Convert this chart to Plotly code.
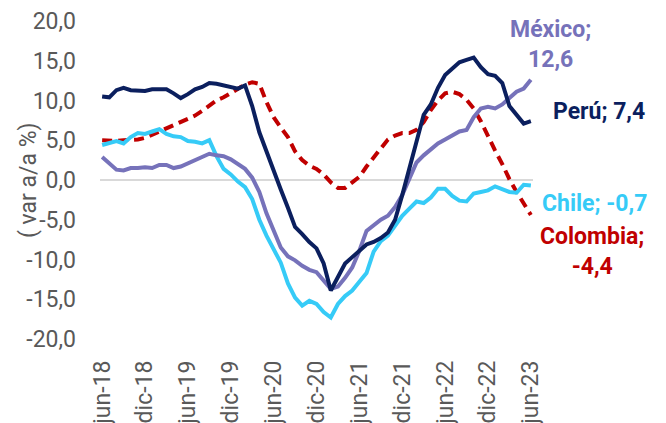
import plotly.graph_objects as go

# Monthly series, jun-18 .. jun-23 (61 points)
peru = [10.5, 10.4, 11.3, 11.6, 11.3, 11.3, 11.2, 11.4, 11.4, 11.4,
        10.9, 10.3, 10.8, 11.4, 11.7, 12.2, 12.1, 11.9, 11.6, 11.5,
        11.9, 9.3, 6.0, 3.5, 1.0, -1.2, -3.5, -5.9, -6.8, -7.8,
        -8.6, -10.5, -13.9, -12.3, -10.5, -9.7, -8.9, -8.1, -7.8, -7.3,
        -6.6, -5.0, -1.9, 1.5, 5.0, 8.2, 9.5, 11.6, 13.2, 14.0,
        14.8, 15.1, 15.4, 14.2, 13.3, 13.1, 12.2, 9.3, 8.2, 7.1, 7.4]
colombia = [5.0, 4.9, 4.9, 5.0, 5.0, 5.1, 5.3, 5.7, 6.1, 6.5,
            6.9, 7.3, 7.7, 8.1, 8.7, 9.4, 10.0, 10.4, 10.9, 11.4,
            12.0, 12.3, 12.1, 9.8, 7.9, 6.6, 5.4, 3.6, 2.5, 1.8,
            1.4, 0.7, -0.3, -1.0, -1.0, -0.3, 0.4, 1.7, 2.9, 4.1,
            5.1, 5.6, 5.9, 5.9, 6.3, 7.3, 8.8, 10.0, 10.9, 11.1,
            10.8, 10.1, 9.0, 7.4, 5.5, 3.7, 2.0, 0.1, -1.5, -3.0, -4.4]
chile = [4.4, 4.6, 4.9, 4.6, 5.4, 5.9, 5.8, 6.1, 6.4, 5.8,
         5.5, 5.4, 4.9, 4.8, 4.6, 5.0, 3.0, 1.4, 0.7, -0.2,
         -0.9, -2.4, -5.0, -7.0, -8.6, -10.4, -13.0, -14.8, -15.8, -15.2,
         -15.6, -16.6, -17.3, -15.6, -14.6, -13.9, -12.8, -11.7, -9.0, -7.7,
         -7.0, -5.8, -4.5, -3.6, -2.7, -2.9, -2.2, -1.1, -1.1, -2.0,
         -2.6, -2.7, -1.7, -1.5, -1.3, -0.8, -1.1, -1.5, -1.6, -0.6, -0.7]
mexico = [2.9, 2.1, 1.3, 1.2, 1.5, 1.5, 1.6, 1.5, 1.9, 1.9,
          1.5, 1.7, 2.1, 2.4, 2.9, 3.3, 3.1, 3.0, 2.6, 2.0,
          1.4, 0.3, -1.5, -4.2, -6.5, -8.5, -9.6, -10.1, -10.8, -11.3,
          -11.6, -12.7, -13.7, -13.4, -12.3, -11.0, -8.9, -6.4, -5.7, -5.0,
          -4.5, -3.4, -1.9, 0.3, 2.2, 3.1, 3.9, 4.6, 5.1, 5.6,
          6.1, 6.3, 7.9, 9.0, 9.2, 9.0, 9.5, 10.3, 11.1, 11.5, 12.6]

x_ticks = ["jun-18", "dic-18", "jun-19", "dic-19", "jun-20", "dic-20",
           "jun-21", "dic-21", "jun-22", "dic-22", "jun-23"]
y_ticks = [20, 15, 10, 5, 0, -5, -10, -15, -20]
y_tick_text = ["20,0", "15,0", "10,0", "5,0", "0,0", "-5,0", "-10,0", "-15,0", "-20,0"]

labels = ["Perú; 7,4", "México;<br>12,6", "Chile; -0,7", "Colombia;<br>-4,4"]

C_PERU = "#0B1F5E"
C_MEX = "#7672BA"
C_CHILE = "#36CBF7"
C_COL = "#C00000"

n = len(peru)
xs = list(range(n))

fig = go.Figure()
fig.add_trace(go.Scatter(x=xs, y=colombia, mode="lines",
                         line=dict(color=C_COL, width=4, dash="10px,6px")))
fig.add_trace(go.Scatter(x=xs, y=chile, mode="lines",
                         line=dict(color=C_CHILE, width=4)))
fig.add_trace(go.Scatter(x=xs, y=mexico, mode="lines",
                         line=dict(color=C_MEX, width=4)))
fig.add_trace(go.Scatter(x=xs, y=peru, mode="lines",
                         line=dict(color=C_PERU, width=4)))

tick_font = dict(family="Roboto", size=23, color="#595959")

# page body has an 8px margin, so the figure is 658x415 placed at (8, 8)
fig.update_layout(
    width=658, height=415,
    margin=dict(l=92, r=133, t=13, b=84, autoexpand=False),
    paper_bgcolor="white", plot_bgcolor="white",
    showlegend=False,
    xaxis=dict(range=[-0.3, n - 1 + 0.3], tickvals=list(range(0, n, 6)),
               ticktext=x_ticks, tickangle=-90, tickfont=tick_font,
               showgrid=False, zeroline=False, showline=False, ticks="",
               automargin=False, ticklabelstandoff=16),
    yaxis=dict(range=[-20, 20], tickvals=y_ticks, ticktext=y_tick_text,
               tickfont=tick_font, showgrid=False, zeroline=True,
               zerolinecolor="#D9D9D9", zerolinewidth=1.5, showline=False,
               automargin=False, ticks="", ticklabelstandoff=23),
)

fig.add_annotation(xref="paper", yref="paper", x=-0.166, y=0.5,
                   xanchor="center", yanchor="middle", textangle=-90,
                   text="( var a/a %)", showarrow=False,
                   font=dict(family="Roboto", size=23, color="#595959"))

# right-side labels (paper coords: plot spans x 100..533, y 21..339 px on screen)
def px_x(p):
    return (p - 100) / 433.0

def px_y(p):
    return (339 - p) / 318.0

bold = dict(family="Roboto", size=23, weight="bold")
fig.add_annotation(xref="paper", yref="paper", x=px_x(599), y=px_y(111),
                   text=labels[0], xanchor="center", yanchor="middle",
                   showarrow=False, font=dict(bold, color=C_PERU))
fig.add_annotation(xref="paper", yref="paper", x=px_x(550), y=px_y(45),
                   text=labels[1], xanchor="center", yanchor="middle",
                   showarrow=False, align="center", font=dict(bold, color=C_MEX))
fig.add_annotation(xref="paper", yref="paper", x=px_x(594), y=px_y(203),
                   text=labels[2], xanchor="center", yanchor="middle",
                   showarrow=False, font=dict(bold, color=C_CHILE))
fig.add_annotation(xref="paper", yref="paper", x=px_x(592), y=px_y(252),
                   text=labels[3], xanchor="center", yanchor="middle",
                   showarrow=False, align="center", font=dict(bold, color=C_COL))

fig.write_html("out.html")
